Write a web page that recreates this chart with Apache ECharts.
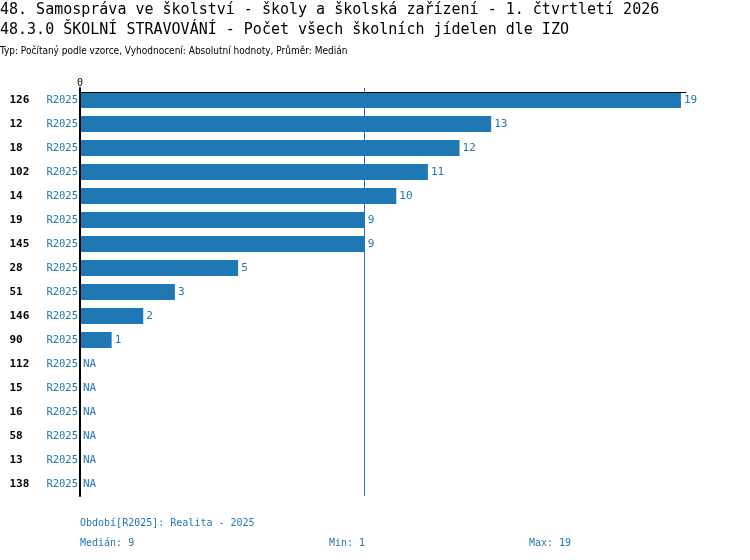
<!DOCTYPE html>
<html>
<head>
<meta charset="utf-8">
<script src="https://cdn.jsdelivr.net/npm/echarts@6/dist/echarts.min.js"></script>
<style>
	html, body { margin: 0; padding: 0; background: #fff; }
	#chart { width: 750px; height: 560px; }
</style>
</head>
<body>
<div id="chart"></div>
<script>
var izo = ['126', '12', '18', '102', '14', '19', '145', '28', '51', '146', '90', '112', '15', '16', '58', '13', '138'];
var period = 'R2025';
var counts = [19, 13, 12, 11, 10, 9, 9, 5, 3, 2, 1, null, null, null, null, null, null];
var median = 9;
var minValue = 1;
var maxValue = 19;

var blue = '#1f77b4';
var mono = '"DejaVu Sans Mono", monospace';

var chart = echarts.init(document.getElementById('chart'));

var seriesData = counts.map(function (v) {
	if (v === null) {
		return { value: 0, na: true };
	}
	return v;
});

var footText = function (text, left, top) {
	return {
		text: text,
		left: left,
		top: top,
		padding: 0,
		textStyle: { color: blue, fontSize: 10, fontWeight: 'normal', fontFamily: mono }
	};
};

var option = {
	animation: false,
	title: [
		{
			text: '48. Samospráva ve školství - školy a školská zařízení - 1. čtvrtletí 2026',
			left: 0,
			top: 3,
			padding: 0,
			textStyle: { color: '#000', fontSize: 15, fontWeight: 'normal', fontFamily: mono }
		},
		{
			text: '48.3.0 ŠKOLNÍ STRAVOVÁNÍ - Počet všech školních jídelen dle IZO',
			left: 0,
			top: 23,
			padding: 0,
			textStyle: { color: '#000', fontSize: 15, fontWeight: 'normal', fontFamily: mono }
		},
		{
			text: 'Typ: Počítaný podle vzorce, Vyhodnocení: Absolutní hodnoty, Průměr: Medián',
			left: 0,
			top: 46,
			padding: 0,
			textStyle: { color: '#000', fontSize: 10, fontWeight: 'normal', fontFamily: '"DejaVu Sans Condensed", sans-serif' }
		},
		footText('Období[' + period + ']: Realita - 2025', 80, 518),
		footText('Medián: ' + median, 80, 538),
		footText('Min: ' + minValue, 329, 538),
		footText('Max: ' + maxValue, 529, 538)
	],
	grid: {
		left: 80,
		right: 64,
		top: 88,
		height: 408,
		containLabel: false
	},
	xAxis: {
		type: 'value',
		position: 'top',
		offset: -4,
		min: 0,
		max: 19.16,
		z: 5,
		splitLine: { show: false },
		axisTick: { show: false },
		axisLine: { show: true, lineStyle: { color: '#000', width: 1 } },
		axisLabel: {
			color: '#000',
			fontSize: 10,
			fontFamily: mono,
			margin: 4,
			formatter: function (v) {
				return v === 0 ? '0' : '';
			}
		}
	},
	yAxis: {
		type: 'category',
		inverse: true,
		data: izo,
		z: 5,
		axisTick: { show: false },
		axisLine: { show: true, lineStyle: { color: '#000', width: 2 } },
		axisLabel: {
			margin: 2,
			formatter: function (v) {
				return '{a|' + v + '}{b|' + period + '}';
			},
			rich: {
				a: { width: 37, align: 'left', color: '#000', fontWeight: 'bold', fontSize: 11, fontFamily: mono },
				b: { color: blue, fontSize: 10.5, fontFamily: mono }
			}
		}
	},
	series: [
		{
			type: 'bar',
			barWidth: 16,
			data: seriesData,
			itemStyle: { color: blue },
			label: {
				show: true,
				position: 'right',
				distance: 3,
				color: blue,
				fontSize: 11,
				fontFamily: mono,
				formatter: function (p) {
					return p.data && p.data.na ? 'NA' : p.value;
				}
			},
			markLine: {
				silent: true,
				symbol: 'none',
				label: { show: false },
				lineStyle: { color: blue, width: 1, type: 'solid' },
				data: [{ xAxis: median }]
			}
		}
	]
};
chart.setOption(option);
</script>
</body>
</html>
